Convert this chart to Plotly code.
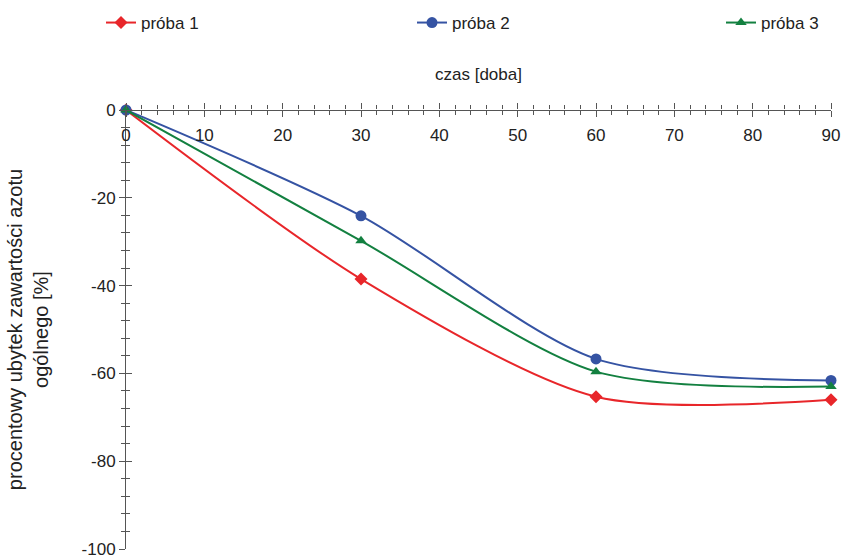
import plotly.graph_objects as go

days = [0, 30, 60, 90]
proba1 = [0, -38.5, -65.3, -66.0]
proba2 = [0, -24.1, -56.7, -61.6]
proba3 = [0, -29.8, -59.6, -63.0]
names = ["próba 1", "próba 2", "próba 3"]
colors = ["#e8262a", "#3553a3", "#138040"]
symbols = ["diamond", "circle", "triangle-up"]
x_ticks = [0, 10, 20, 30, 40, 50, 60, 70, 80, 90]
x_tick_labels = ["0", "10", "20", "30", "40", "50", "60", "70", "80", "90"]
y_ticks = [0, -20, -40, -60, -80, -100]
y_tick_labels = ["0", "-20", "-40", "-60", "-80", "-100"]

legend_x_px = [101, 412, 721]
legend_names = ["legend", "legend2", "legend3"]

fig = go.Figure()
for vals, nm, c, s, lg in zip([proba1, proba2, proba3], names, colors, symbols, legend_names):
    fig.add_trace(go.Scatter(
        x=days, y=vals, name=nm, mode="lines+markers", legend=lg,
        line=dict(color=c, width=2, shape="spline", smoothing=0.8),
        marker=dict(symbol=s, size=11 if s == "circle" else 10, color=c),
        cliponaxis=False,
    ))
# helper trace for the upper / inner tick marks
fig.add_trace(go.Scatter(x=[0], y=[0], xaxis="x2", yaxis="y2", mode="markers",
                         marker=dict(opacity=0), showlegend=False, hoverinfo="skip"))

axis_col = "#555555"
fnt = dict(family="Liberation Sans, Arial, sans-serif", size=17, color="#222222")

layout = dict(
    width=842, height=559,
    margin=dict(l=126, r=11, t=110, b=10, autoexpand=False),
    plot_bgcolor="white", paper_bgcolor="white",
    font=fnt,
    showlegend=True,
    xaxis=dict(range=[0, 90], side="bottom", anchor="free", position=1, automargin=False,
               showgrid=False, zeroline=False, showline=True, linecolor=axis_col, linewidth=1,
               tickmode="array", tickvals=x_ticks, ticktext=x_tick_labels,
               ticks="outside", ticklen=6, tickcolor=axis_col, ticklabelstandoff=4,
               ticklabeloverflow="allow",
               minor=dict(tickmode="linear", tick0=0, dtick=2, ticks="outside", ticklen=4, tickcolor=axis_col),
               tickfont=fnt),
    yaxis=dict(range=[-100, 0], showgrid=False, zeroline=False, showline=True, automargin=False,
               linecolor=axis_col, linewidth=1, tickmode="array", tickvals=y_ticks, ticktext=y_tick_labels,
               ticks="outside", ticklen=6, tickcolor=axis_col, ticklabeloverflow="allow",
               minor=dict(tickmode="linear", tick0=0, dtick=4, ticks="outside", ticklen=4, tickcolor=axis_col),
               title=dict(text="procentowy ubytek zawartości azotu<br>ogólnego [%]", standoff=27),
               tickfont=fnt),
    xaxis2=dict(range=[0, 90], overlaying="x", matches="x", side="top", anchor="y2", automargin=False,
                showgrid=False, zeroline=False, showline=False, showticklabels=False,
                tickmode="array", tickvals=x_ticks, ticks="outside", ticklen=6, tickcolor=axis_col,
                minor=dict(tickmode="linear", tick0=0, dtick=2, ticks="outside", ticklen=4, tickcolor=axis_col),
                title=dict(text="czas [doba]", standoff=18, font=fnt)),
    yaxis2=dict(range=[-100, 0], overlaying="y", matches="y", side="left", anchor="x2", automargin=False,
                showgrid=False, zeroline=False, showline=False, showticklabels=False,
                tickmode="array", tickvals=y_ticks, ticks="inside", ticklen=6, tickcolor=axis_col,
                minor=dict(tickmode="linear", tick0=0, dtick=4, ticks="inside", ticklen=4, tickcolor=axis_col)),
)
for lg, xp in zip(legend_names, legend_x_px):
    layout[lg] = dict(x=xp / 842, xref="container", xanchor="left",
                      y=1 - 23 / 559, yref="container", yanchor="middle",
                      orientation="h", font=fnt, bgcolor="rgba(0,0,0,0)",
                      itemwidth=30)
fig.update_layout(**layout)

fig.write_html("out.html")
